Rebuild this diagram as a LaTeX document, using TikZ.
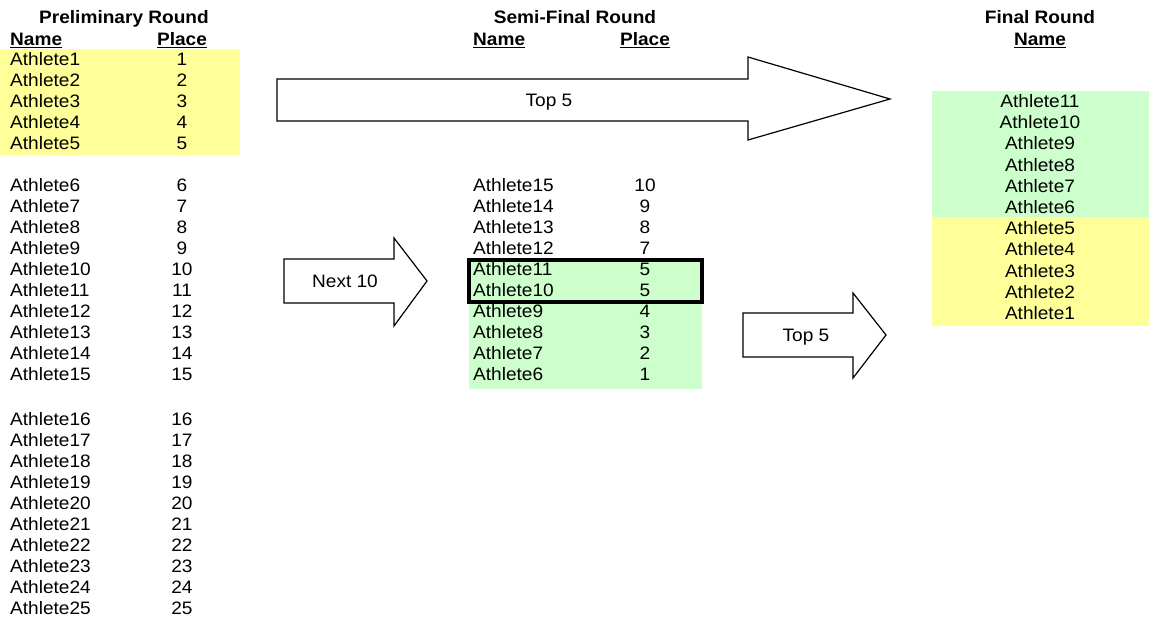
\documentclass[tikz,border=0pt]{standalone}
\usepackage{fontspec}
\setmainfont[FakeStretch=1.06]{Liberation Sans}
\usepackage{xcolor}
\usetikzlibrary{positioning}

\definecolor{qualyellow}{HTML}{FFFF99}
\definecolor{qualgreen}{HTML}{CCFFCC}

\begin{document}
\begin{tikzpicture}[
    x=1pt, y=-1pt,
    cell/.style={
        inner sep=0pt,
        text height=13pt,
        text depth=0pt,
        font=\fontsize{18}{21}\selectfont
    },
    athname/.style={cell, anchor=west},
    athplace/.style={cell, anchor=center},
    roundtitle/.style={cell, font=\fontsize{18}{21}\selectfont\bfseries},
    blockarrow/.style={draw, fill=white, line width=1.2pt, line join=miter}
]

\useasboundingbox (0,0) rectangle (1149,620);

% shaded groups
\fill[qualyellow] (0,49) rectangle (240,155);
\fill[qualgreen] (469,260) rectangle (702,389);
\fill[qualgreen] (932,91) rectangle (1149,217);
\fill[qualyellow] (932,217) rectangle (1149,326);

% preliminary round
\node[roundtitle] (pretitle) at (124,17) {Preliminary Round};
\node[roundtitle, anchor=west] (prename) at (10,39) {\underline{Name}};
\node[roundtitle] (preplace) at (182,39) {\underline{Place}};
\foreach \i in {1,...,25} {
    \pgfmathsetmacro{\rowy}{\i<6 ? 38+21*\i : (\i<16 ? 59+21*\i : 83+21*\i)}
    \node[athname] (pre\i) at (10,\rowy) {Athlete\i};
    \node[athplace] (prep\i) at (182,\rowy) {\i};
}

% semi-final round
\node[roundtitle] (semititle) at (575,17) {Semi-Final Round};
\node[roundtitle, anchor=west] (seminame) at (473,39) {\underline{Name}};
\node[roundtitle] (semiplace) at (645,39) {\underline{Place}};
\foreach \a/\p [count=\k from 0] in {15/10,14/9,13/8,12/7,11/5,10/5,9/4,8/3,7/2,6/1} {
    \node[athname] (semi\a) at (473,185+21*\k) {Athlete\a};
    \node[athplace] (semip\a) at (645,185+21*\k) {\p};
}
\draw[line width=3.5pt] (469,260) rectangle (702,302);

% final round
\node[roundtitle] (fintitle) at (1040,17) {Final Round};
\node[roundtitle] (finname) at (1040,39) {\underline{Name}};
\foreach \a [count=\k from 0] in {11,10,9,8,7,6,5,4,3,2,1} {
    \node[athplace] (fin\a) at (1040,101+21.2*\k) {Athlete\a};
}

% block arrows
\draw[blockarrow] (277,79) -- (748,79) -- (748,57) -- (890,99)
    -- (748,140) -- (748,121) -- (277,121) -- cycle;
\node[cell] (topfive) at (549,100) {Top 5};

\draw[blockarrow] (284,259) -- (394,259) -- (394,238) -- (427,281)
    -- (394,326) -- (394,303) -- (284,303) -- cycle;
\node[cell] (nextten) at (345,281) {Next 10};

\draw[blockarrow] (743,313) -- (853,313) -- (853,293) -- (886,335)
    -- (853,378) -- (853,357) -- (743,357) -- cycle;
\node[cell] (topfivesemi) at (806,335) {Top 5};

\end{tikzpicture}
\end{document}
